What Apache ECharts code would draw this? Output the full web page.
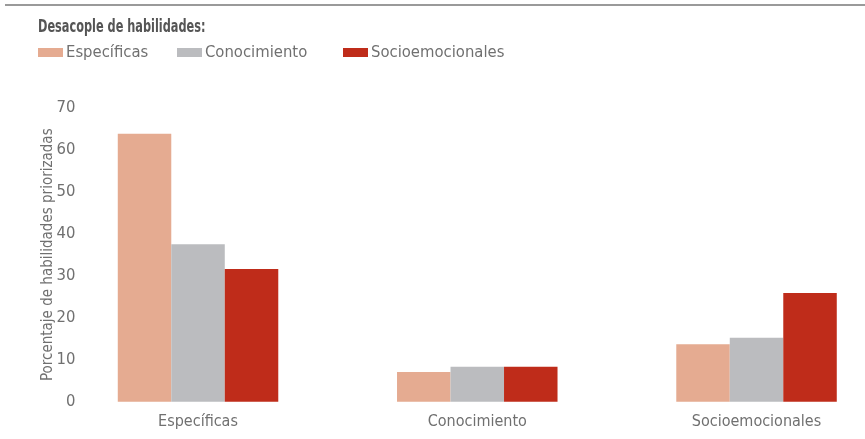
<!DOCTYPE html>
<html><head><meta charset="utf-8">
<script src="https://cdn.jsdelivr.net/npm/echarts@6/dist/echarts.min.js"></script>
<style>html,body{margin:0;padding:0;background:#fff;overflow:hidden}#c{width:900px;height:439px}</style>
</head><body><div id="c"></div>
<script>
const categories = ['Específicas', 'Conocimiento', 'Socioemocionales'];
const seriesNames = ['Específicas', 'Conocimiento', 'Socioemocionales'];
const especificas = [63.8, 7.1, 13.7];
const conocimiento = [37.5, 8.3, 15.2];
const socioemocionales = [31.6, 8.3, 25.9];
const yTicks = [0, 10, 20, 30, 40, 50, 60, 70];
const colors = ['#E5AB91', '#BBBCBF', '#BF2C1A'];
const FONT = '"Liberation Sans Narrow", "DejaVu Sans Condensed", "Roboto", sans-serif';

const chart = echarts.init(document.getElementById('c'));
const values = [especificas, conocimiento, socioemocionales];
const legendLefts = [38, 177, 343];
chart.setOption({
  animation: false,
  textStyle: { fontFamily: FONT },
  graphic: [
    { type: 'rect', left: 5, top: 4, shape: { width: 860, height: 2 }, style: { fill: '#9a9a9a' } },
    { type: 'text', x: 38, y: 19, scaleX: 0.74, style: { text: 'Desacople de habilidades:', font: 'bold 17px ' + FONT, fill: '#555' } }
  ],
  legend: seriesNames.map((n, i) => ({
    data: [n], left: legendLefts[i], top: 44, padding: 0, itemWidth: 25, itemHeight: 9, itemGap: 4,
    icon: 'rect', selectedMode: false,
    textStyle: { fontFamily: FONT, fontSize: 16.5, color: '#707070', padding: [0, 0, 0, -2] }
  })),
  grid: { left: 58.4, top: 107.7, width: 837.75, bottom: 37.3, containLabel: false },
  xAxis: {
    type: 'category', data: categories,
    axisLine: { show: false }, axisTick: { show: false },
    axisLabel: { fontFamily: FONT, fontSize: 16, color: '#707070', margin: 12 }
  },
  yAxis: {
    type: 'value', min: 0, max: 70, interval: 10, offset: -25,
    axisLine: { show: false }, axisTick: { show: false }, splitLine: { show: false },
    axisLabel: { fontFamily: FONT, fontSize: 16.5, color: '#707070', margin: 8,
      formatter: v => yTicks.includes(v) ? String(v) : '' },
    name: 'Porcentaje de habilidades priorizadas', nameLocation: 'middle', nameGap: 28, nameRotate: 90,
    nameMoveOverlap: false,
    nameTextStyle: { fontFamily: FONT, fontSize: 15, color: '#707070' }
  },
  series: seriesNames.map((n, i) => ({
    name: n, type: 'bar', data: values[i], barWidth: 53.5, barGap: '0%',
    itemStyle: { color: colors[i] }
  }))
});
</script></body></html>
